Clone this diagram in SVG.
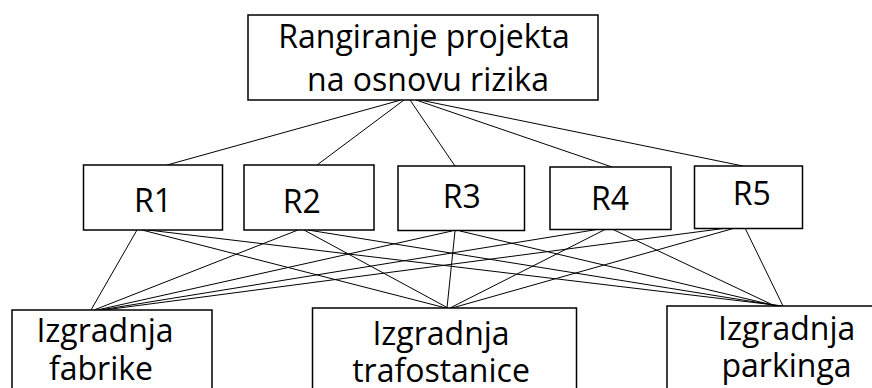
<svg xmlns="http://www.w3.org/2000/svg" width="872" height="388" viewBox="0 0 872 388">
<style>
.box{fill:#fff;stroke:#000;stroke-width:1.5}
.t{font-family:"Open Sans","Noto Sans",sans-serif;font-size:32px;fill:#000;text-anchor:middle}
.c line{stroke:#000;stroke-width:1}
</style>
<rect width="872" height="388" fill="#fff"/>
<g id="connectors" class="c">
<line x1="401" y1="100" x2="167" y2="165"/>
<line x1="404" y1="100" x2="317" y2="165"/>
<line x1="410" y1="100" x2="455" y2="166"/>
<line x1="416" y1="100" x2="612" y2="167"/>
<line x1="420" y1="100" x2="743" y2="166"/>
<line x1="137" y1="230" x2="91" y2="310"/>
<line x1="142" y1="230" x2="446" y2="308"/>
<line x1="148" y1="230" x2="783" y2="306"/>
<line x1="298" y1="230" x2="94" y2="310"/>
<line x1="304" y1="230" x2="448" y2="308"/>
<line x1="308" y1="230" x2="780" y2="306"/>
<line x1="452" y1="231" x2="97" y2="310"/>
<line x1="455" y1="231" x2="447" y2="308"/>
<line x1="460" y1="231" x2="777" y2="306"/>
<line x1="600" y1="229" x2="100" y2="310"/>
<line x1="606" y1="229" x2="450" y2="308"/>
<line x1="612" y1="229" x2="775" y2="306"/>
<line x1="727" y1="228" x2="104" y2="310"/>
<line x1="735" y1="228" x2="452" y2="308"/>
<line x1="745" y1="228" x2="783" y2="306"/>
</g>
<g id="top">
<rect class="box" x="248" y="15" width="350" height="85"/>
<text class="t" x="424" y="48">Rangiranje projekta</text>
<text class="t" x="428" y="90.7">na osnovu rizika</text>
</g>
<g id="R1"><rect class="box" x="83.5" y="165" width="139" height="65"/><text class="t" x="153" y="211.7">R1</text></g>
<g id="R2"><rect class="box" x="244" y="165" width="130" height="65"/><text class="t" x="301.7" y="213.3">R2</text></g>
<g id="R3"><rect class="box" x="398" y="166" width="126.5" height="64.5"/><text class="t" x="461.7" y="208.3">R3</text></g>
<g id="R4"><rect class="box" x="550" y="167" width="121" height="62.5"/><text class="t" x="610" y="210">R4</text></g>
<g id="R5"><rect class="box" x="694.5" y="166" width="108" height="62.5"/><text class="t" x="751.7" y="205">R5</text></g>
<g id="fabrike"><rect class="box" x="12" y="310" width="200" height="90"/><text class="t" x="105" y="341.7">Izgradnja</text><text class="t" x="101" y="380">fabrike</text></g>
<g id="trafostanice"><rect class="box" x="312.5" y="308" width="264" height="92"/><text class="t" x="441" y="345">Izgradnja</text><text class="t" x="441" y="381.7">trafostanice</text></g>
<g id="parkinga"><rect class="box" x="667" y="306" width="220" height="94"/><text class="t" x="786.7" y="340">Izgradnja</text><text class="t" x="786.5" y="376.7">parkinga</text></g>
</svg>
